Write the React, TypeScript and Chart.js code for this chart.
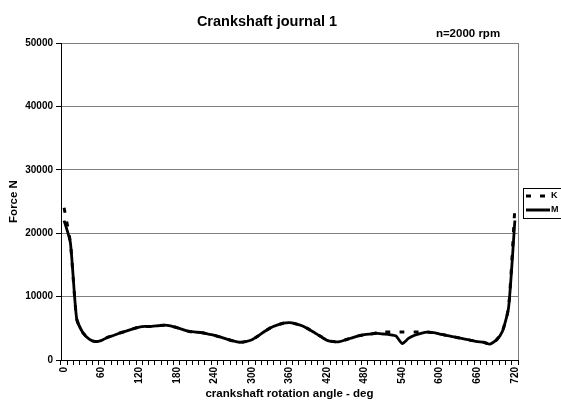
import React, { useEffect, useRef } from "react";
import { Chart, registerables } from "chart.js";

Chart.register(...registerables);

const FONT = "'Liberation Sans', Arial, sans-serif";

const titleText = "Crankshaft journal 1";
const subtitleText = "n=2000 rpm";
const xTitle = "crankshaft rotation angle - deg";
const yTitle = "Force N";

// crank angle categories 0..720 step 10
const angles: string[] = [
  "0","10","20","30","40","50","60","70","80","90",
  "100","110","120","130","140","150","160","170","180","190",
  "200","210","220","230","240","250","260","270","280","290",
  "300","310","320","330","340","350","360","370","380","390",
  "400","410","420","430","440","450","460","470","480","490",
  "500","510","520","530","540","550","560","570","580","590",
  "600","610","620","630","640","650","660","670","680","690",
  "700","710","720",
];

const seriesM: number[] = [
  22000, 18500, 6500, 4300, 3300, 2900, 3100, 3600, 3900, 4300,
  4600, 4900, 5200, 5300, 5300, 5400, 5500, 5400, 5100, 4800,
  4500, 4400, 4300, 4100, 3900, 3600, 3300, 3000, 2800, 2900,
  3200, 3800, 4500, 5100, 5500, 5800, 5900, 5700, 5400, 4900,
  4300, 3700, 3100, 2900, 2900, 3200, 3500, 3800, 4000, 4100,
  4200, 4100, 4000, 3800, 2600, 3400, 3900, 4200, 4400, 4300,
  4100, 3900, 3700, 3500, 3300, 3100, 2900, 2800, 2500, 3100,
  4500, 8300, 22000,
];

const seriesK: number[] = [
  24000, 18500, 6500, 4300, 3300, 2900, 3100, 3600, 3900, 4300,
  4600, 4900, 5200, 5300, 5300, 5400, 5500, 5400, 5100, 4800,
  4500, 4400, 4300, 4100, 3900, 3600, 3300, 3000, 2800, 2900,
  3200, 3800, 4500, 5100, 5500, 5800, 5900, 5700, 5400, 4900,
  4300, 3700, 3100, 2900, 2900, 3200, 3500, 3800, 4000, 4100,
  4300, 4400, 4400, 4400, 4400, 4400, 4400, 4400, 4400, 4300,
  4100, 3900, 3700, 3500, 3300, 3100, 2900, 2800, 2500, 3100,
  4500, 8300, 24000,
];

const yTicks: number[] = [0, 10000, 20000, 30000, 40000, 50000];

const decorPlugin = {
  id: "decor",
  afterDraw(chart: any) {
    const { ctx, chartArea } = chart;
    ctx.save();
    // right border of the plot area
    ctx.strokeStyle = "#808080";
    ctx.lineWidth = 1;
    ctx.beginPath();
    ctx.moveTo(Math.round(chartArea.right) + 0.5, chartArea.top);
    ctx.lineTo(Math.round(chartArea.right) + 0.5, chartArea.bottom);
    ctx.stroke();

    // title and subtitle
    ctx.fillStyle = "#000";
    ctx.textAlign = "center";
    ctx.textBaseline = "alphabetic";
    ctx.font = `bold 14.5px ${FONT}`;
    ctx.fillText(titleText, 267, 26);
    ctx.font = `bold 11.5px ${FONT}`;
    ctx.fillText(subtitleText, 468, 37);

    // legend
    const lx = chartArea.right + 5;
    const ly = 188;
    ctx.strokeStyle = "#000";
    ctx.lineWidth = 1;
    ctx.strokeRect(Math.round(lx) + 0.5, ly + 0.5, 60, 30);
    const ds = chart.data.datasets;
    const rows = [ds[1], ds[0]];
    rows.forEach((d: any, i: number) => {
      const y = ly + 8 + i * 14;
      ctx.beginPath();
      ctx.lineWidth = 3;
      ctx.setLineDash(d.borderDash || []);
      ctx.moveTo(lx + 3, y);
      ctx.lineTo(lx + 27, y);
      ctx.stroke();
      ctx.setLineDash([]);
      ctx.font = `bold 9px ${FONT}`;
      ctx.textAlign = "left";
      ctx.textBaseline = "middle";
      ctx.fillText(d.label, lx + 28, y);
    });
    ctx.restore();
  },
};

export default function App() {
  const ref = useRef<HTMLCanvasElement | null>(null);

  useEffect(() => {
    document.body.style.margin = "0";
    const canvas = ref.current;
    if (!canvas) return;
    const chart = new Chart(canvas, {
      type: "line",
      data: {
        labels: angles,
        datasets: [
          {
            label: "M",
            data: seriesM,
            borderColor: "#000",
            borderWidth: 2.8,
            pointRadius: 0,
            fill: false,
            tension: 0.2,
          },
          {
            label: "K",
            data: seriesK,
            borderColor: "#000",
            borderWidth: 3,
            borderDash: [5, 9],
            pointRadius: 0,
            fill: false,
            tension: 0.2,
          },
        ],
      },
      options: {
        animation: false,
        responsive: false,
        maintainAspectRatio: false,
        layout: { padding: { top: 43, right: 43, left: 0, bottom: 0 } },
        plugins: {
          legend: { display: false },
          title: { display: false },
          tooltip: { enabled: false },
        },
        scales: {
          x: {
            type: "category",
            offset: true,
            afterFit: (s: any) => {
              s.height = 49;
            },
            grid: {
              offset: true,
              drawOnChartArea: false,
              drawTicks: true,
              tickLength: 5,
              tickColor: "#000",
              color: "#000",
            },
            border: { display: true, color: "#000", width: 1 },
            ticks: {
              autoSkip: false,
              maxRotation: 90,
              minRotation: 90,
              padding: 2,
              color: "#000",
              font: { family: FONT, size: 10, weight: "bold" },
              callback: (_v: any, i: number) => (i % 6 === 0 ? angles[i] : ""),
            },
            title: {
              display: true,
              text: xTitle,
              color: "#000",
              font: { family: FONT, size: 11.5, weight: "bold" },
              padding: { top: 0, bottom: 8 },
            },
          },
          y: {
            min: 0,
            max: 50000,
            afterFit: (s: any) => {
              s.width = 61;
            },
            afterBuildTicks: (s: any) => {
              s.ticks = yTicks.map((v) => ({ value: v }));
            },
            grid: {
              color: "#808080",
              lineWidth: 1,
              tickLength: 5,
              tickColor: "#000",
            },
            border: { display: true, color: "#000", width: 1 },
            ticks: {
              padding: 3,
              color: "#000",
              font: { family: FONT, size: 10, weight: "bold" },
              callback: (v: any) => String(v),
            },
            title: {
              display: true,
              text: yTitle,
              color: "#000",
              font: { family: FONT, size: 11.5, weight: "bold" },
              padding: { top: 7, bottom: 0 },
            },
          },
        },
      },
      plugins: [decorPlugin],
    });
    return () => chart.destroy();
  }, []);

  return (
    <div style={{ position: "absolute", left: 0, top: 0, width: 561, height: 409, background: "#fff" }}>
      <canvas ref={ref} width={561} height={409} style={{ width: 561, height: 409, display: "block" }} />
    </div>
  );
}
